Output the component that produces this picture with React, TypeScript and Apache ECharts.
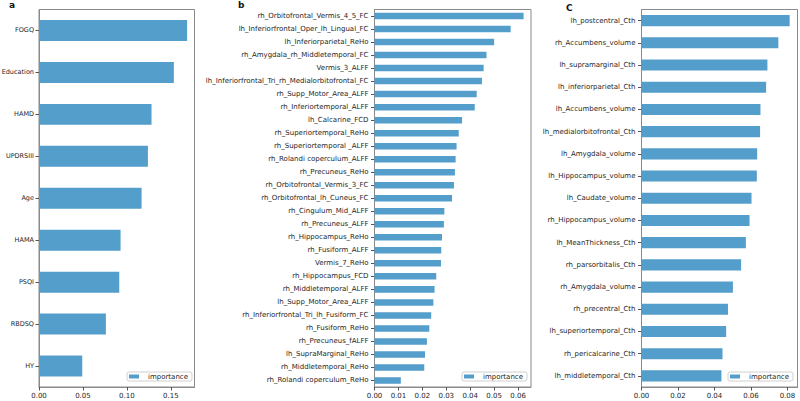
import { useEffect, useRef } from 'react';
import * as echarts from 'echarts';

const catsA = ['FOGQ', 'Education', 'HAMD', 'UPDRSIII', 'Age', 'HAMA', 'PSQI', 'RBDSQ', 'HY'];
const valsA = [0.1685, 0.1534, 0.128, 0.1239, 0.1167, 0.0928, 0.0913, 0.0761, 0.0492];
const ticksA = [0, 0.05, 0.1, 0.15];

const catsB = [
  'rh_Orbitofrontal_Vermis_4_5_FC',
  'lh_Inferiorfrontal_Oper_lh_Lingual_FC',
  'lh_Inferiorparietal_ReHo',
  'rh_Amygdala_rh_Middletemporal_FC',
  'Vermis_3_ALFF',
  'lh_Inferiorfrontal_Tri_rh_Medialorbitofrontal_FC',
  'rh_Supp_Motor_Area_ALFF',
  'rh_Inferiortemporal_ALFF',
  'lh_Calcarine_FCD',
  'rh_Superiortemporal_ReHo',
  'rh_Superiortemporal _ALFF',
  'rh_Rolandi coperculum_ALFF',
  'rh_Precuneus_ReHo',
  'rh_Orbitofrontal_Vermis_3_FC',
  'rh_Orbitofrontal_lh_Cuneus_FC',
  'rh_Cingulum_Mid_ALFF',
  'rh_Precuneus_ALFF',
  'rh_Hippocampus_ReHo',
  'rh_Fusiform_ALFF',
  'Vermis_7_ReHo',
  'rh_Hippocampus_FCD',
  'rh_Middletemporal_ALFF',
  'lh_Supp_Motor_Area_ALFF',
  'rh_Inferiorfrontal_Tri_lh_Fusiform_FC',
  'rh_Fusiform_ReHo',
  'rh_Precuneus_fALFF',
  'lh_SupraMarginal_ReHo',
  'rh_Middletemporal_ReHo',
  'rh_Rolandi coperculum_ReHo',
];
const valsB = [
  0.0623, 0.0569, 0.05, 0.0468, 0.0456, 0.0449, 0.0427, 0.0419, 0.0366, 0.0352,
  0.0343, 0.0339, 0.0336, 0.0332, 0.0324, 0.0292, 0.029, 0.0282, 0.0279, 0.0278,
  0.0258, 0.0251, 0.0246, 0.0237, 0.0229, 0.0219, 0.0211, 0.0208, 0.011,
];
const ticksB = [0, 0.01, 0.02, 0.03, 0.04, 0.05, 0.06];

const catsC = [
  'lh_postcentral_Cth',
  'rh_Accumbens_volume',
  'lh_supramarginal_Cth',
  'lh_inferiorparietal_Cth',
  'lh_Accumbens_volume',
  'lh_medialorbitofrontal_Cth',
  'lh_Amygdala_volume',
  'lh_Hippocampus_volume',
  'lh_Caudate_volume',
  'rh_Hippocampus_volume',
  'lh_MeanThickness_Cth',
  'rh_parsorbitalis_Cth',
  'rh_Amygdala_volume',
  'rh_precentral_Cth',
  'lh_superiortemporal_Cth',
  'rh_pericalcarine_Cth',
  'lh_middletemporal_Cth',
];
const valsC = [
  0.0812, 0.075, 0.069, 0.0683, 0.0652, 0.065, 0.0634, 0.0632, 0.0603, 0.0592,
  0.0572, 0.0546, 0.0501, 0.0474, 0.0464, 0.0444, 0.0438,
];
const ticksC = [0, 0.02, 0.04, 0.06, 0.08];

const seriesName = 'importance';
const panelTitles = ['a', 'b', 'C'];

export default function App() {
  const ref = useRef<HTMLDivElement>(null);
  useEffect(() => {
    const chart = echarts.init(ref.current!, null, { renderer: 'svg' });
    const font = 'DejaVu Sans';
    const textColor = '#262626';
    const frame = '#8a8a8a';
    const barColor = '#549ecb';
    const panels = [
      { cats: catsA, vals: valsA, ticks: ticksA, max: 0.1769, left: 39, right: 194.5, titleX: 9, legendX: 127, catFont: 6.5, catMargin: 5 },
      { cats: catsB, vals: valsB, ticks: ticksB, max: 0.0654, left: 374.5, right: 531, titleX: 238, legendX: 462, catFont: 7, catMargin: 6 },
      { cats: catsC, vals: valsC, ticks: ticksC, max: 0.0855, left: 641.5, right: 797.5, titleX: 566, legendX: 728, catFont: 7, catMargin: 6 },
    ];
    const option: any = {
      animation: false,
      backgroundColor: '#fff',
      title: panels.map((p, i) => ({
        text: panelTitles[i],
        left: p.titleX,
        top: i === 2 ? 3 : 0,
        padding: 0,
        textStyle: { fontFamily: font, fontSize: 9, fontWeight: 'bold', color: '#111' },
      })),
      legend: panels.map((p) => ({
        data: [seriesName],
        left: p.legendX,
        top: 372,
        orient: 'vertical',
        selectedMode: false,
        icon: 'rect',
        itemWidth: 10,
        itemHeight: 4,
        padding: [1, 4, 1, 2],
        borderColor: '#d0d0d0',
        borderWidth: 1,
        borderRadius: 2,
        backgroundColor: '#fff',
        textStyle: { fontFamily: font, fontSize: 7, color: textColor, padding: [0, 0, 0, 4] },
      })),
      grid: panels.map((p) => ({
        left: p.left,
        width: p.right - p.left,
        top: 9.5,
        height: 377.5,
        containLabel: false,
        outerBoundsMode: 'none',
        show: true,
        borderColor: frame,
        borderWidth: 1,
        backgroundColor: 'transparent',
      })),
      xAxis: panels.map((p, i) => ({
        type: 'value',
        gridIndex: i,
        min: 0,
        max: p.max,
        axisLine: { show: true, lineStyle: { color: frame, width: 1 } },
        axisTick: { show: true, customValues: p.ticks, length: 3.5, lineStyle: { color: '#555' } },
        axisLabel: {
          customValues: p.ticks,
          formatter: (v: number) => v.toFixed(2),
          fontFamily: font,
          fontSize: 7,
          color: textColor,
          margin: 5,
        },
        splitLine: { show: false },
      })),
      yAxis: panels.map((p, i) => ({
        type: 'category',
        gridIndex: i,
        inverse: true,
        data: p.cats,
        axisLine: { show: true, lineStyle: { color: frame, width: 1 } },
        axisTick: { show: true, alignWithLabel: true, length: 3.5, lineStyle: { color: '#555' } },
        axisLabel: { fontFamily: font, fontSize: p.catFont, color: textColor, margin: p.catMargin, interval: 0 },
        splitLine: { show: false },
      })),
      series: panels.map((p, i) => ({
        type: 'bar',
        name: seriesName,
        xAxisIndex: i,
        yAxisIndex: i,
        data: p.vals,
        barWidth: '50%',
        itemStyle: { color: barColor },
      })),
    };
    chart.setOption(option);
    return () => chart.dispose();
  }, []);
  return (
    <div
      ref={ref}
      style={{ position: 'fixed', left: 0, top: 0, width: 800, height: 401, background: '#fff' }}
    />
  );
}
